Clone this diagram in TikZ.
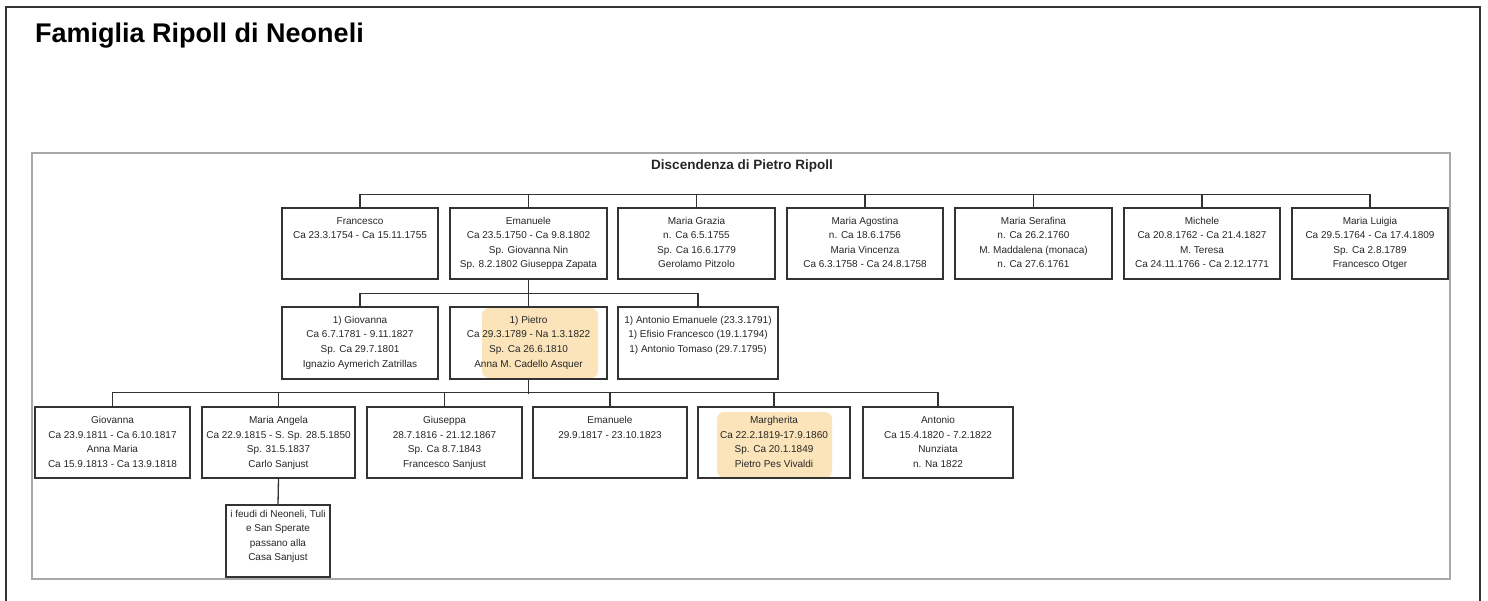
\documentclass[tikz,border=0pt]{standalone}
\usepackage{fontspec}
\setmainfont{Liberation Sans}
\definecolor{boxc}{HTML}{333333}
\definecolor{txtc}{HTML}{262626}
\definecolor{framec}{HTML}{A8A8A8}
\definecolor{hlc}{RGB}{251,228,186}
\newcommand\bxt[4]{\parbox[c][#2pt][t]{#1pt}{\centering\fontsize{10}{14.5}\selectfont\color{txtc}\rule{0pt}{#3pt}#4}}
\begin{document}
\begin{tikzpicture}[x=1pt,y=-1pt,
  pbox/.style={draw=boxc, line width=1.3pt, inner sep=0pt, anchor=center},
  conn/.style={draw=boxc, line width=1.3pt},
  hl/.style={fill=hlc, rounded corners=7pt}]
\useasboundingbox (0,0) rectangle (1488,601);
% outer frame
\draw[boxc, line width=1.5pt] (6,620) -- (6,7) -- (1480,7) -- (1480,620);
% inner frame
\draw[framec, line width=1.8pt] (32,153) rectangle (1450,579);
% titles
\node[anchor=base west, inner sep=0pt, font=\fontsize{27}{30}\selectfont\bfseries] (title) at (35,42.5) {Famiglia Ripoll di Neoneli};
\node[inner sep=0pt, font=\fontsize{13.5}{15}\selectfont\bfseries, text=txtc] (sub) at (742,166) {Discendenza di Pietro Ripoll};
% highlights
\fill[hl] (482,308) rectangle (598,378);
\fill[hl] (717,412) rectangle (832,478);
% generation 1
\node[pbox] (francesco) at (360,243.5) {\bxt{156}{71}{16.5}{Francesco\\Ca 23.3.1754 - Ca 15.11.1755}};
\node[pbox] (emanuele) at (528.5,243.5) {\bxt{157}{71}{16.5}{Emanuele\\Ca 23.5.1750 - Ca 9.8.1802\\Sp. Giovanna Nin\\Sp. 8.2.1802 Giuseppa Zapata}};
\node[pbox] (grazia) at (696.5,243.5) {\bxt{157}{71}{16.5}{Maria Grazia\\n. Ca 6.5.1755\\Sp. Ca 16.6.1779\\Gerolamo Pitzolo}};
\node[pbox] (agostina) at (865,243.5) {\bxt{156}{71}{16.5}{Maria Agostina\\n. Ca 18.6.1756\\Maria Vincenza\\Ca 6.3.1758 - Ca 24.8.1758}};
\node[pbox] (serafina) at (1033.5,243.5) {\bxt{157}{71}{16.5}{Maria Serafina\\n. Ca 26.2.1760\\M. Maddalena (monaca)\\n. Ca 27.6.1761}};
\node[pbox] (michele) at (1202,243.5) {\bxt{156}{71}{16.5}{Michele\\Ca 20.8.1762 - Ca 21.4.1827\\M. Teresa\\Ca 24.11.1766 - Ca 2.12.1771}};
\node[pbox] (luigia) at (1370,243.5) {\bxt{156}{71}{16.5}{Maria Luigia\\Ca 29.5.1764 - Ca 17.4.1809\\Sp. Ca 2.8.1789\\Francesco Otger}};
% generation 2
\node[pbox] (giovanna) at (360,343) {\bxt{156}{72}{16.5}{1) Giovanna\\Ca 6.7.1781 - 9.11.1827\\Sp. Ca 29.7.1801\\Ignazio Aymerich Zatrillas}};
\node[pbox] (pietro) at (528.5,343) {\bxt{157}{72}{16.5}{1) Pietro\\Ca 29.3.1789 - Na 1.3.1822\\Sp. Ca 26.6.1810\\Anna M. Cadello Asquer}};
\node[pbox] (antonioe) at (698,343) {\bxt{160}{72}{16.5}{1) Antonio Emanuele (23.3.1791)\\1) Efisio Francesco (19.1.1794)\\1) Antonio Tomaso (29.7.1795)}};
% generation 3
\node[pbox] (giovanna3) at (112.5,442.5) {\bxt{155}{71}{16.5}{Giovanna\\Ca 23.9.1811 - Ca 6.10.1817\\Anna Maria\\Ca 15.9.1813 - Ca 13.9.1818}};
\node[pbox] (angela) at (278.5,442.5) {\bxt{153}{71}{16.5}{Maria Angela\\Ca 22.9.1815 - S. Sp. 28.5.1850\\Sp. 31.5.1837\\Carlo Sanjust}};
\node[pbox] (giuseppa) at (444.5,442.5) {\bxt{155}{71}{16.5}{Giuseppa\\28.7.1816 - 21.12.1867\\Sp. Ca 8.7.1843\\Francesco Sanjust}};
\node[pbox] (emanuele3) at (610,442.5) {\bxt{154}{71}{16.5}{Emanuele\\29.9.1817 - 23.10.1823}};
\node[pbox] (margherita) at (774,442.5) {\bxt{152}{71}{16.5}{Margherita\\Ca 22.2.1819-17.9.1860\\Sp. Ca 20.1.1849\\Pietro Pes Vivaldi}};
\node[pbox] (antonio3) at (938,442.5) {\bxt{150}{71}{16.5}{Antonio\\Ca 15.4.1820 - 7.2.1822\\Nunziata\\n. Na 1822}};
% generation 4
\node[pbox] (feudi) at (278,541) {\bxt{104}{72}{12}{i feudi di Neoneli, Tuli\\e San Sperate\\passano alla\\Casa Sanjust}};
% connectors gen 1
\draw[conn] (francesco.north) -- ++(0,-13) -| (luigia.north);
\foreach \n in {emanuele,grazia,agostina,serafina,michele}
  \draw[conn] (\n.north) -- ++(0,-13);
% connectors gen 2
\draw[conn] (emanuele.south) -- (pietro.north);
\draw[conn] (giovanna.north) -- ++(0,-13) -| (antonioe.north);
% connectors gen 3
\draw[conn] (pietro.south) -- ++(0,14);
\draw[conn] (giovanna3.north) -- ++(0,-14) -| (antonio3.north);
\foreach \n in {angela,giuseppa,emanuele3,margherita}
  \draw[conn] (\n.north) -- ++(0,-14);
% connector gen 4
\draw[conn] (angela.south) -- (feudi.north);
\end{tikzpicture}
\end{document}
